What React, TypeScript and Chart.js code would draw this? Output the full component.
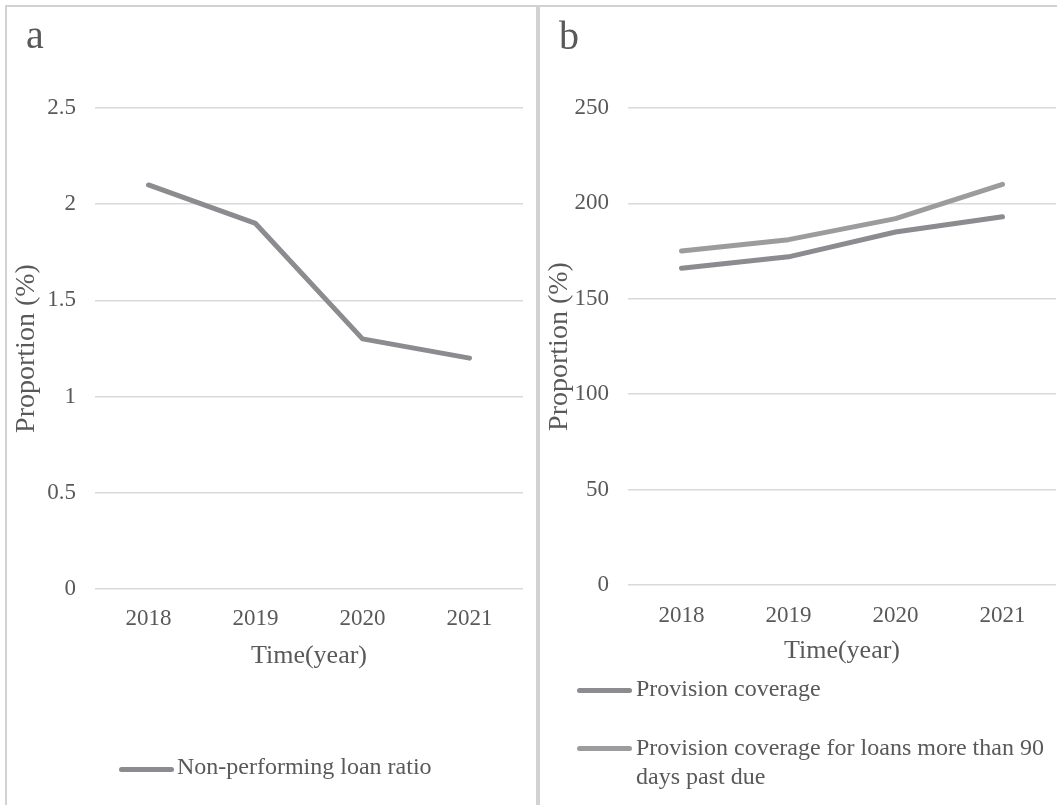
import React, { useEffect, useRef } from 'react';
import { Chart, registerables } from 'chart.js';

Chart.register(...registerables);

// Years on the category axis
const years = ['2018', '2019', '2020', '2021'];

// Panel a: non-performing loan ratio (%)
const nplRatio = [2.1, 1.9, 1.3, 1.2];
const ratioTicks = [0, 0.5, 1, 1.5, 2, 2.5];

// Panel b: provision coverage (%)
const provisionCoverage = [166, 172, 185, 193];
const provisionCoverage90 = [175, 181, 192, 210];
const coverageTicks = [0, 50, 100, 150, 200, 250];

const SERIF = "'Liberation Serif', 'Times New Roman', serif";
const TEXT = '#595959';
const GRID = '#d9d9d9';
const PANEL_BORDER = '#d2d2d2';
const LINE_DARK = '#8c8c90';
const LINE_LIGHT = '#9c9c9f';

type Series = { label: string; data: number[]; color: string };

type ChartProps = {
  series: Series[];
  yTicks: number[];
  left: number;
  xTickPad: number;
  xTitlePad: number;
  bottomPad: number;
};

function LineChart({ series, yTicks, left, xTickPad, xTitlePad, bottomPad }: ChartProps) {
  const ref = useRef<HTMLCanvasElement>(null);

  useEffect(() => {
    if (!ref.current) return;
    const chart = new Chart(ref.current, {
      type: 'line',
      data: {
        labels: years,
        datasets: series.map((s) => ({
          label: s.label,
          data: s.data,
          borderColor: s.color,
          backgroundColor: s.color,
          borderWidth: 5,
          pointRadius: 0,
          pointHoverRadius: 0,
          borderCapStyle: 'round' as const,
          borderJoinStyle: 'round' as const,
          tension: 0,
          fill: false,
        })),
      },
      options: {
        responsive: false,
        animation: false,
        events: [],
        layout: { padding: { left: 0, top: 101, right: 13, bottom: bottomPad } },
        plugins: {
          legend: { display: false },
          tooltip: { enabled: false },
          title: { display: false },
        },
        scales: {
          x: {
            offset: true,
            grid: { display: false },
            border: { display: false },
            ticks: {
              color: TEXT,
              font: { family: SERIF, size: 23 },
              padding: xTickPad,
              maxRotation: 0,
              autoSkip: false,
            },
            title: {
              display: true,
              text: 'Time(year)',
              color: TEXT,
              font: { family: SERIF, size: 26 },
              padding: { top: 0, bottom: xTitlePad },
            },
            afterFit: (scale: any) => {
              scale.height = 100;
            },
          },
          y: {
            min: yTicks[0],
            max: yTicks[yTicks.length - 1],
            afterBuildTicks: (scale: any) => {
              scale.ticks = yTicks.map((v) => ({ value: v }));
            },
            grid: { color: GRID, lineWidth: 1.5, drawTicks: false },
            border: { display: false },
            ticks: {
              color: TEXT,
              font: { family: SERIF, size: 23 },
              padding: 19,
              callback: (v: any) => String(Number(v)),
            },
            title: {
              display: true,
              text: 'Proportion (%)',
              color: TEXT,
              font: { family: SERIF, size: 28 },
              padding: { top: 3, bottom: 0 },
            },
            afterFit: (scale: any) => {
              scale.width = 88;
            },
          },
        },
      },
    });
    return () => chart.destroy();
  }, []);

  return (
    <canvas
      ref={ref}
      width={529}
      height={798}
      style={{ position: 'absolute', left, top: 7, display: 'block' }}
    />
  );
}

function LegendLine({ x, y, color }: { x: number; y: number; color: string }) {
  return (
    <div
      style={{
        position: 'absolute',
        left: x,
        top: y - 2.5,
        width: 55,
        height: 5,
        borderRadius: 2.5,
        background: color,
      }}
    />
  );
}

const textStyle: React.CSSProperties = {
  position: 'absolute',
  fontFamily: SERIF,
  fontSize: 24,
  lineHeight: '29px',
  color: TEXT,
  whiteSpace: 'normal',
};

export default function App() {
  return (
    <div
      style={{
        position: 'fixed',
        left: 0,
        top: 0,
        width: 1057,
        height: 805,
        overflow: 'hidden',
        background: '#ffffff',
      }}
    >
      {/* panel frames */}
      <div
        style={{
          position: 'absolute',
          left: 5,
          top: 5,
          width: 533,
          height: 820,
          boxSizing: 'border-box',
          border: `2px solid ${PANEL_BORDER}`,
        }}
      />
      <div
        style={{
          position: 'absolute',
          left: 538,
          top: 5,
          width: 533,
          height: 820,
          boxSizing: 'border-box',
          border: `2px solid ${PANEL_BORDER}`,
        }}
      />

      <LineChart
        series={[{ label: 'Non-performing loan ratio', data: nplRatio, color: LINE_DARK }]}
        yTicks={ratioTicks}
        left={7}
        xTickPad={8}
        xTitlePad={17}
        bottomPad={116}
      />
      <LineChart
        series={[
          { label: 'Provision coverage', data: provisionCoverage, color: LINE_DARK },
          {
            label: 'Provision coverage for loans more than 90 days past due',
            data: provisionCoverage90,
            color: LINE_LIGHT,
          },
        ]}
        yTicks={coverageTicks}
        left={540}
        xTickPad={9}
        xTitlePad={18}
        bottomPad={120}
      />

      {/* panel letters */}
      <div style={{ ...textStyle, left: 26, top: 15, fontSize: 40, lineHeight: '40px' }}>a</div>
      <div style={{ ...textStyle, left: 559, top: 16, fontSize: 40, lineHeight: '40px' }}>b</div>

      {/* legend, panel a */}
      <LegendLine x={119} y={769} color={LINE_DARK} />
      <div style={{ ...textStyle, left: 177, top: 752, whiteSpace: 'nowrap' }}>
        Non-performing loan ratio
      </div>

      {/* legend, panel b */}
      <LegendLine x={577} y={690} color={LINE_DARK} />
      <div style={{ ...textStyle, left: 636, top: 674, whiteSpace: 'nowrap' }}>
        Provision coverage
      </div>
      <LegendLine x={577} y={748} color={LINE_LIGHT} />
      <div style={{ ...textStyle, left: 636, top: 733, width: 415 }}>
        Provision coverage for loans more than 90 days past due
      </div>
    </div>
  );
}
